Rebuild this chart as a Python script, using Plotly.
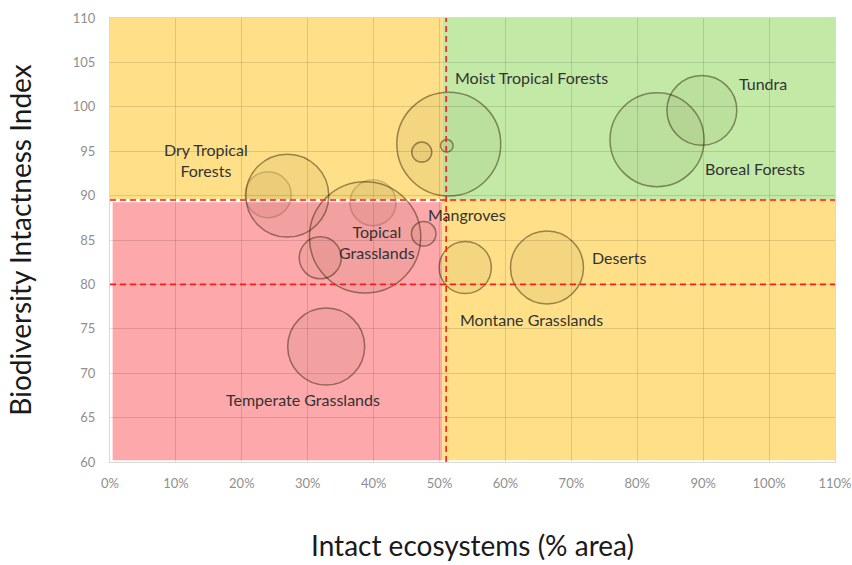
import plotly.graph_objects as go

# ---- data ----
biomes = ["Moist Tropical Forests", "Moist sub-unit A", "Moist sub-unit B",
          "Dry Tropical Forests", "Dry sub-unit", "Topical Grasslands",
          "Grassland sub-unit", "Mangroves", "Grassland sub-unit B",
          "Montane Grasslands", "Deserts", "Temperate Grasslands",
          "Boreal Forests", "Tundra"]
intact_pct = [51.4, 47.3, 51.1, 26.9, 24.0, 38.7, 39.9, 47.6, 31.9, 53.9, 66.3, 32.8, 83.0, 89.8]
bii = [95.8, 94.9, 95.6, 90.0, 90.1, 85.3, 89.2, 85.7, 83.0, 81.9, 81.9, 73.0, 96.3, 99.6]
bubble_size = [270, 10, 4, 172, 53, 310, 53, 15, 44, 68, 133, 148, 221, 122]
faint = [False, False, False, False, True, False, True, False, False, False, False, False, False, False]

label_text = ["Moist Tropical Forests", "Tundra", "Boreal Forests", "Dry Tropical<br>Forests",
              "Mangroves", "Topical<br>Grasslands", "Deserts", "Montane Grasslands",
              "Temperate Grasslands"]
label_x = [63.9, 99.1, 97.9, 14.6, 54.2, 40.5, 77.2, 63.9, 29.3]
label_y = [103.35, 102.6, 93.0, 94.0, 87.9, 84.8, 83.0, 76.0, 67.0]

bii_threshold = 89.5
bii_lower = 80
intact_threshold = 51

x_tickvals = list(range(0, 111, 10))
x_ticktext = [f"{v}%" for v in x_tickvals]
y_tickvals = list(range(60, 111, 5))

FONT = "Lato, 'Open Sans', sans-serif"

fig = go.Figure()

line_colors = ["rgba(40,25,0,0.28)" if f else "rgba(45,30,0,0.68)" for f in faint]

fig.add_trace(go.Scatter(
    x=intact_pct, y=bii, mode="markers", text=biomes,
    marker=dict(size=bubble_size, sizemode="area", sizeref=0.05,
                color="rgba(90,55,10,0.08)",
                line=dict(color=line_colors, width=1.5)),
    hovertemplate="%{text}<br>%{x}%<br>%{y}<extra></extra>",
    showlegend=False,
))

shapes = [
    dict(type="rect", xref="x", yref="y", x0=0, x1=50.5, y0=89.6, y1=110,
         fillcolor="#FFE088", line=dict(width=0), layer="below"),
    dict(type="rect", xref="x", yref="y", x0=50.5, x1=110, y0=89.5, y1=110,
         fillcolor="#C2EAA6", line=dict(width=0), layer="below"),
    dict(type="rect", xref="x", yref="y", x0=0.4, x1=50.4, y0=60.2, y1=89.25,
         fillcolor="#FDA8AA", line=dict(width=0), layer="below"),
    dict(type="rect", xref="x", yref="y", x0=50.4, x1=110, y0=60.2, y1=89.5,
         fillcolor="#FFE088", line=dict(width=0), layer="below"),
    dict(type="line", xref="x", yref="y", x0=0, x1=110, y0=bii_threshold, y1=bii_threshold,
         line=dict(color="#FF1A1A", width=1.6, dash="6px,4px")),
    dict(type="line", xref="x", yref="y", x0=0, x1=110, y0=bii_lower, y1=bii_lower,
         line=dict(color="#FF1A1A", width=1.6, dash="6px,4px")),
    dict(type="line", xref="x", yref="y", x0=intact_threshold, x1=intact_threshold, y0=60, y1=110,
         line=dict(color="#FF1A1A", width=1.6, dash="6px,4px")),
]

annotations = [
    dict(x=lx, y=ly, xref="x", yref="y", text=t, showarrow=False,
         font=dict(family=FONT, size=16, color="#333333"), align="center")
    for t, lx, ly in zip(label_text, label_x, label_y)
]

fig.update_layout(
    width=852, height=565,
    margin=dict(l=110, r=17, t=18, b=103),
    paper_bgcolor="white", plot_bgcolor="white",
    font=dict(family=FONT),
    shapes=shapes, annotations=annotations,
    xaxis=dict(range=[0, 110], tickvals=x_tickvals, ticktext=x_ticktext,
               showgrid=True, gridcolor="rgba(0,0,0,0.12)", gridwidth=1,
               zeroline=False, showline=True, linecolor="#D9D9D9", linewidth=1, mirror=True,
               ticks="", ticklabelstandoff=9, ticklabeloverflow="allow",
               tickfont=dict(family=FONT, size=13, color="#8f8f8f"),
               title=dict(text="Intact ecosystems (% area)", standoff=46,
                          font=dict(family=FONT, size=28, color="#1a1a1a")),
               automargin="top", fixedrange=True),
    yaxis=dict(range=[60, 110], tickvals=y_tickvals,
               showgrid=True, gridcolor="rgba(0,0,0,0.12)", gridwidth=1,
               zeroline=False, showline=True, linecolor="#D9D9D9", linewidth=1, mirror=True,
               ticks="", ticklabelstandoff=11,
               tickfont=dict(family=FONT, size=13, color="#8f8f8f"),
               title=dict(text="Biodiversity Intactness Index", standoff=32,
                          font=dict(family=FONT, size=28, color="#1a1a1a")),
               automargin="right", fixedrange=True),
)

fig.write_html(
    "out.html",
    config={"displayModeBar": False},
    post_script="document.body.style.margin='0px';document.body.style.overflow='hidden';",
)
